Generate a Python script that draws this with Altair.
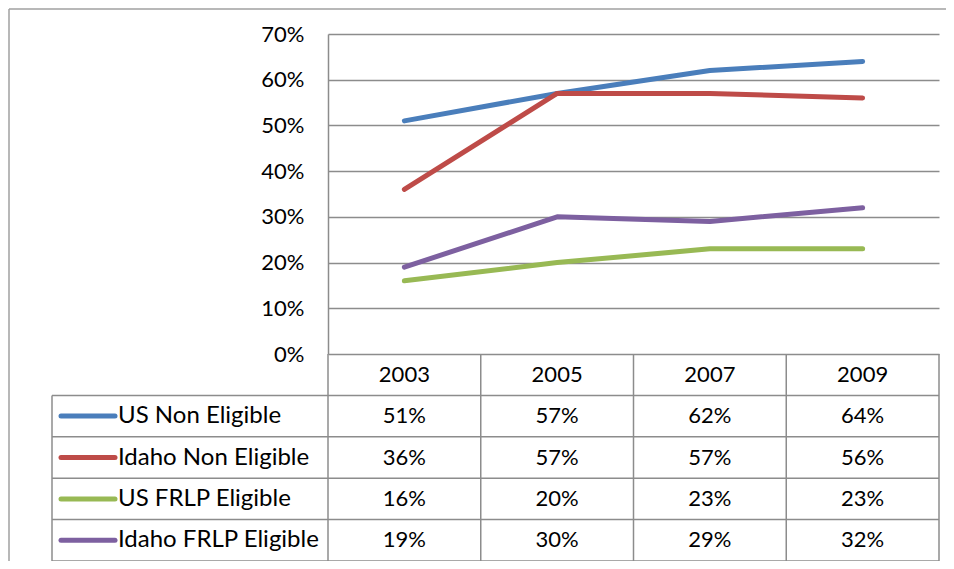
import altair as alt
import pandas as pd

# ---- data ----
years = ["2003", "2005", "2007", "2009"]
series = ["US Non Eligible", "Idaho Non Eligible", "US FRLP Eligible", "Idaho FRLP Eligible"]
colors = ["#4A7EBB", "#BE4B48", "#98B954", "#7D60A0"]
us_non = [0.51, 0.57, 0.62, 0.64]
idaho_non = [0.36, 0.57, 0.57, 0.56]
us_frlp = [0.16, 0.20, 0.23, 0.23]
idaho_frlp = [0.19, 0.30, 0.29, 0.32]
y_ticks = [0.0, 0.1, 0.2, 0.3, 0.4, 0.5, 0.6, 0.7]

values = [us_non, idaho_non, us_frlp, idaho_frlp]
rows = ["header"] + series

long = pd.DataFrame(
    [{"year": y, "series": s, "row": s, "value": v, "label": f"{round(v * 100)}%"}
     for s, vals in zip(series, values) for y, v in zip(years, vals)]
)
header = pd.DataFrame({"year": years, "row": ["header"] * 4, "label": years})
cells = pd.concat([header, long[["year", "row", "label"]]], ignore_index=True)
legend_df = pd.DataFrame({"series": series, "row": series})
vlines_df = pd.DataFrame({"year": years})
last_df = pd.DataFrame({"year": [years[-1]], "row": [series[-1]]})
dummy = pd.DataFrame({"a": [0]})

# ---- layout ----
W, H = 611, 320
TB = 527
LEG_LEFT = -276
GRID = "#8c8c8c"
FONT = "Lato"
FS = 22

xband = alt.Scale(type="band", domain=years, paddingInner=0, paddingOuter=0)
yrow = alt.Scale(type="band", domain=rows, range=[H, TB], paddingInner=0, paddingOuter=0)
cscale = alt.Scale(domain=series, range=colors)

lines = alt.Chart(long).mark_line(strokeWidth=5, strokeCap="round", strokeJoin="round").encode(
    x=alt.X("year:O", scale=xband, bandPosition=0.5, axis=None),
    y=alt.Y("value:Q", scale=alt.Scale(domain=[0, 0.7]),
            axis=alt.Axis(values=y_ticks, format=".0%", grid=True, gridColor=GRID, gridWidth=1.5,
                          domainColor=GRID, domainWidth=1.5, ticks=False, labelFont=FONT,
                          labelFontSize=FS, labelColor="black", labelPadding=24, title=None)),
    color=alt.Color("series:N", scale=cscale, legend=None),
)

cell_text = alt.Chart(cells).mark_text(font=FONT, fontSize=FS, color="black").encode(
    x=alt.X("year:O", scale=xband, bandPosition=0.5, axis=None),
    y=alt.Y("row:N", scale=yrow, bandPosition=0.5, axis=None),
    text="label:N",
)

legend_text = alt.Chart(legend_df).mark_text(font=FONT, fontSize=24, color="black", align="left").encode(
    x=alt.value(-210),
    y=alt.Y("row:N", scale=yrow, bandPosition=0.5, axis=None),
    text="series:N",
)

swatch = alt.Chart(legend_df).mark_rule(strokeWidth=5, strokeCap="round").encode(
    x=alt.value(-267),
    x2=alt.value(-213),
    y=alt.Y("row:N", scale=yrow, bandPosition=0.5, axis=None),
    color=alt.Color("series:N", scale=cscale, legend=None),
)

hrules = alt.Chart(legend_df).mark_rule(color=GRID, strokeWidth=1.5).encode(
    x=alt.value(LEG_LEFT), x2=alt.value(W),
    y=alt.Y("row:N", scale=yrow, bandPosition=0, axis=None),
)
hbottom = alt.Chart(last_df).mark_rule(color=GRID, strokeWidth=1.5).encode(
    x=alt.value(LEG_LEFT), x2=alt.value(W),
    y=alt.Y("row:N", scale=yrow, bandPosition=1, axis=None),
)

vrules = alt.Chart(vlines_df).mark_rule(color=GRID, strokeWidth=1.5).encode(
    x=alt.X("year:O", scale=xband, bandPosition=0, axis=None),
    y=alt.value(H), y2=alt.value(TB),
)
vright = alt.Chart(last_df).mark_rule(color=GRID, strokeWidth=1.5).encode(
    x=alt.X("year:O", scale=xband, bandPosition=1, axis=None),
    y=alt.value(H), y2=alt.value(TB),
)
vleg = alt.Chart(dummy).mark_rule(color=GRID, strokeWidth=1.5).encode(
    x=alt.value(LEG_LEFT), y=alt.value(H + (TB - H) / 5), y2=alt.value(TB),
)

frame_top = alt.Chart(dummy).mark_rule(color="#a0a0a0", strokeWidth=1.5).encode(
    x=alt.value(-319), x2=alt.value(W + 20), y=alt.value(-25),
)
frame_left = alt.Chart(dummy).mark_rule(color="#a0a0a0", strokeWidth=1.5).encode(
    x=alt.value(-319), y=alt.value(-25), y2=alt.value(TB + 20),
)

chart = alt.layer(
    frame_top, frame_left, lines, hrules, hbottom, vrules, vright, vleg,
    swatch, legend_text, cell_text,
).resolve_scale(y="independent").properties(
    width=W, height=H,
    autosize=alt.AutoSizeParams(type="none"),
    padding={"left": 320, "top": 26, "right": 7, "bottom": 207},
).configure_view(stroke=None)

chart.save("out.html", embed_options={"renderer": "svg", "actions": False})
